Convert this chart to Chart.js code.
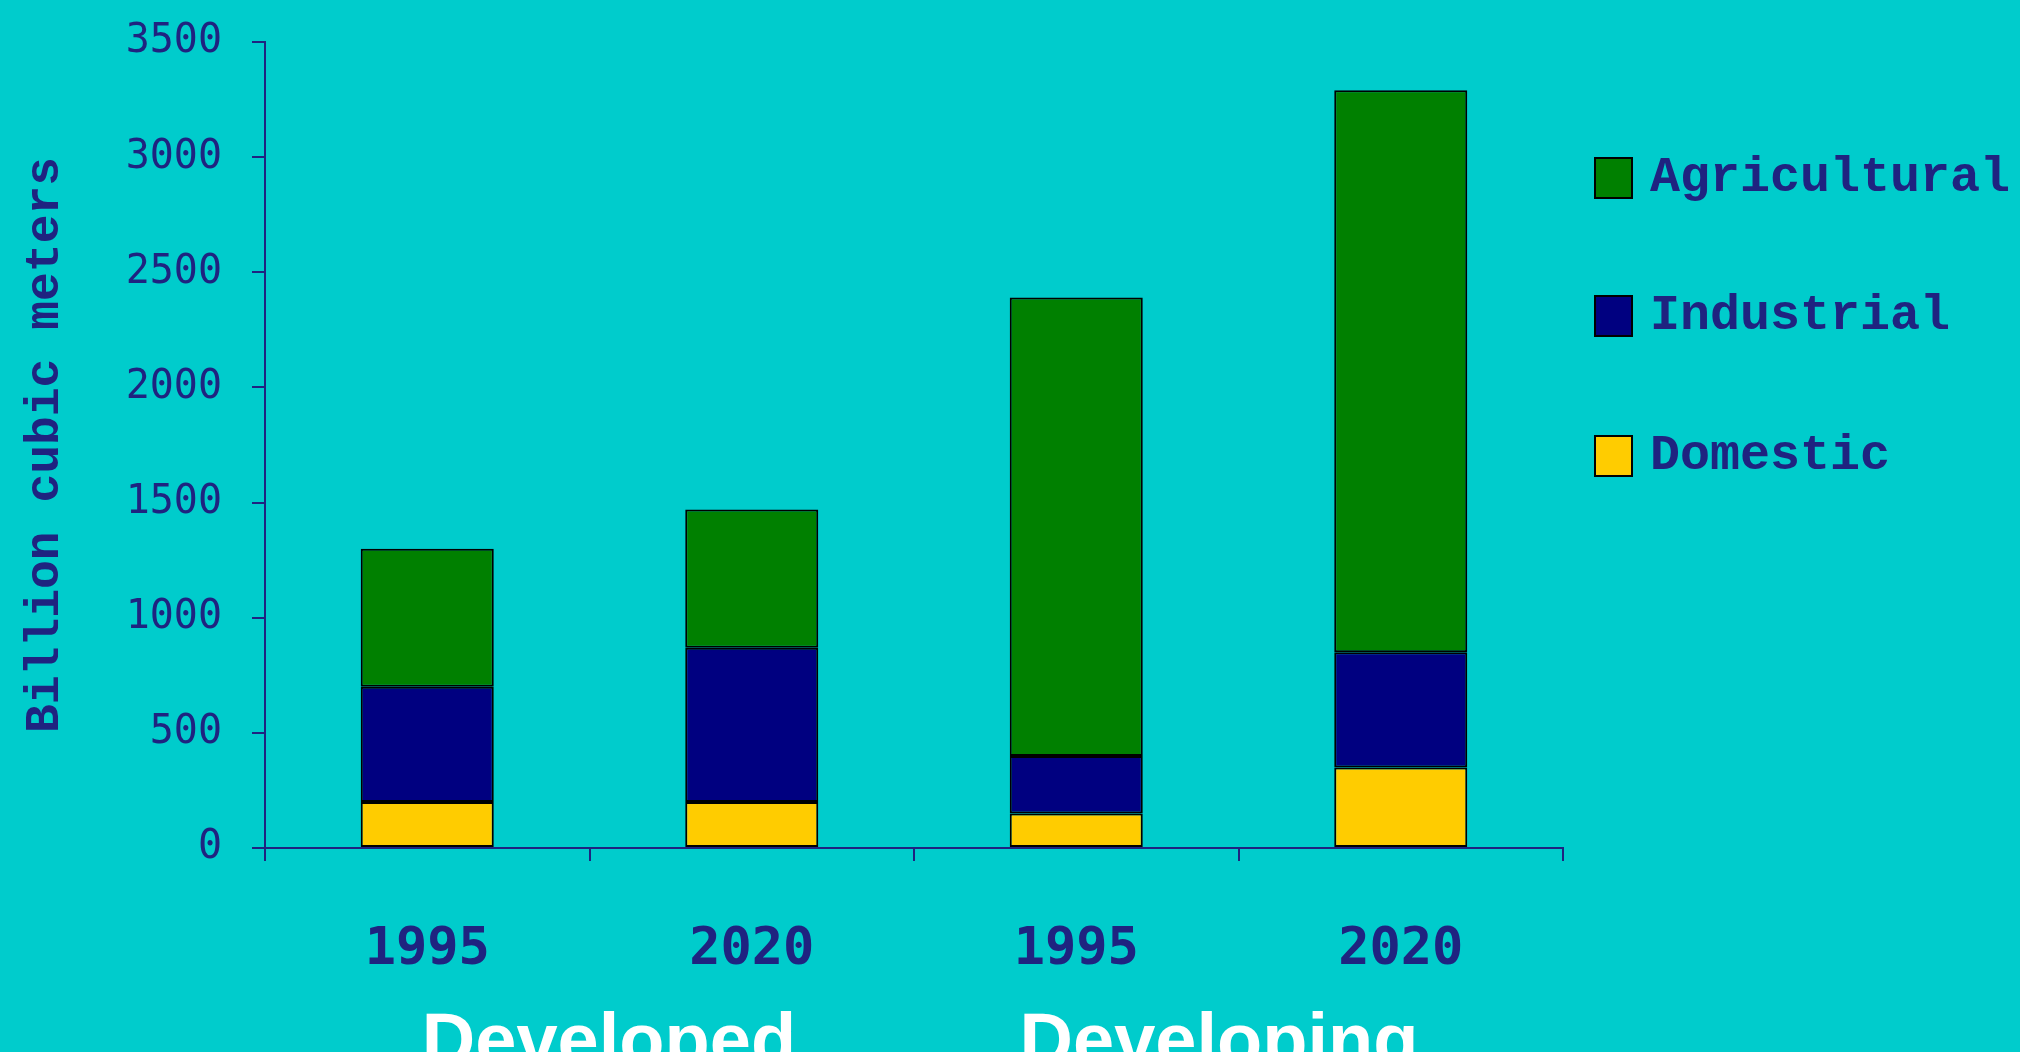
<!DOCTYPE html>
<html>
<head>
<meta charset="utf-8">
<title>Water withdrawal</title>
<script src="https://cdn.jsdelivr.net/npm/chart.js@4.4.1/dist/chart.umd.min.js"></script>
<style>
  html, body { margin: 0; padding: 0; background: #00cccc; overflow: hidden; }
  canvas { display: block; }
</style>
</head>
<body>
<canvas id="agua-canvas" width="2020" height="1052"></canvas>
<script>
/* global Chart */
const ANOS = ['1995', '2020', '1995', '2020'];
const GRUPOS = ['Developed', 'Developing'];
const GRUPO_POS = [0.56, 2.44];   // category index where each group label is centred
const DOMESTIC = [200, 200, 150, 350];
const INDUSTRIAL = [500, 670, 250, 500];
const AGRICULTURAL = [600, 600, 1990, 2440];
const Y_MAX = 3500;
const Y_STEP = 500;

const AZUL = '#1f2380';
const CORES = { Domestic: '#ffcc00', Industrial: '#000080', Agricultural: '#008000' };

// legenda desenhada a mao, de cima para baixo (ordem inversa do empilhamento)
const legendaLateral = {
  id: 'legendaLateral',
  afterDraw(chart) {
    const ctx = chart.ctx;
    const linhas = [178, 316, 456];
    const sets = chart.data.datasets.slice().reverse();
    ctx.save();
    ctx.font = 'bold 50px "Liberation Mono", monospace';
    ctx.textBaseline = 'middle';
    sets.forEach((ds, i) => {
      const y = linhas[i];
      ctx.fillStyle = ds.backgroundColor;
      ctx.fillRect(1595, y - 20, 37, 40);
      ctx.strokeStyle = '#000';
      ctx.lineWidth = 2;
      ctx.strokeRect(1595, y - 20, 37, 40);
      ctx.fillStyle = AZUL;
      ctx.fillText(ds.label, 1650, y);
    });
    ctx.restore();
  }
};

// rotulos de grupo em branco sob os anos
const rotulosGrupo = {
  id: 'rotulosGrupo',
  afterDraw(chart) {
    const ctx = chart.ctx;
    const x = chart.scales.x;
    ctx.save();
    ctx.font = 'bold 74px "Liberation Sans", Arial, sans-serif';
    ctx.fillStyle = '#ffffff';
    ctx.textAlign = 'center';
    ctx.textBaseline = 'alphabetic';
    GRUPOS.forEach((g, i) => {
      const px = x.left + (GRUPO_POS[i] + 0.5) * (x.width / ANOS.length);
      ctx.fillText(g, px, 1065);
    });
    ctx.restore();
  }
};

const serie = (label, data) => ({
  label, data,
  backgroundColor: CORES[label],
  borderColor: '#000',
  borderWidth: 2,
  borderSkipped: false,
  barPercentage: 0.41,
  categoryPercentage: 1
});

new Chart(document.getElementById('agua-canvas'), {
  type: 'bar',
  data: {
    labels: ANOS,
    datasets: [
      serie('Domestic', DOMESTIC),
      serie('Industrial', INDUSTRIAL),
      serie('Agricultural', AGRICULTURAL)
    ]
  },
  options: {
    responsive: false,
    animation: false,
    layout: { padding: { left: 0, top: 42, right: 457, bottom: 0 } },
    plugins: {
      legend: { display: false },
      tooltip: { enabled: false }
    },
    scales: {
      x: {
        stacked: true,
        afterFit: s => { s.height = 1052 - 848; },
        border: { display: true, color: AZUL, width: 2 },
        grid: { offset: true, drawOnChartArea: false, color: AZUL, lineWidth: 2, tickLength: 13 },
        ticks: {
          color: AZUL, padding: 58,
          font: { family: '"DejaVu Sans Mono", monospace', size: 52, weight: 'bold' }
        }
      },
      y: {
        stacked: true,
        min: 0, max: Y_MAX,
        afterFit: s => { s.width = 265; s.paddingTop = 0; s.paddingBottom = 0; },
        border: { display: true, color: AZUL, width: 2 },
        grid: { drawOnChartArea: false, color: AZUL, lineWidth: 2, tickLength: 13 },
        ticks: {
          stepSize: Y_STEP, color: AZUL, padding: 30,
          callback: v => String(v),
          font: { family: '"DejaVu Sans Mono", monospace', size: 40 }
        },
        title: {
          display: true, text: 'Billion cubic meters', color: AZUL,
          padding: 0,
          font: { family: '"Liberation Mono", monospace', size: 48, weight: 'bold', lineHeight: 1.9 }
        }
      }
    }
  },
  plugins: [legendaLateral, rotulosGrupo]
});
</script>
</body>
</html>
